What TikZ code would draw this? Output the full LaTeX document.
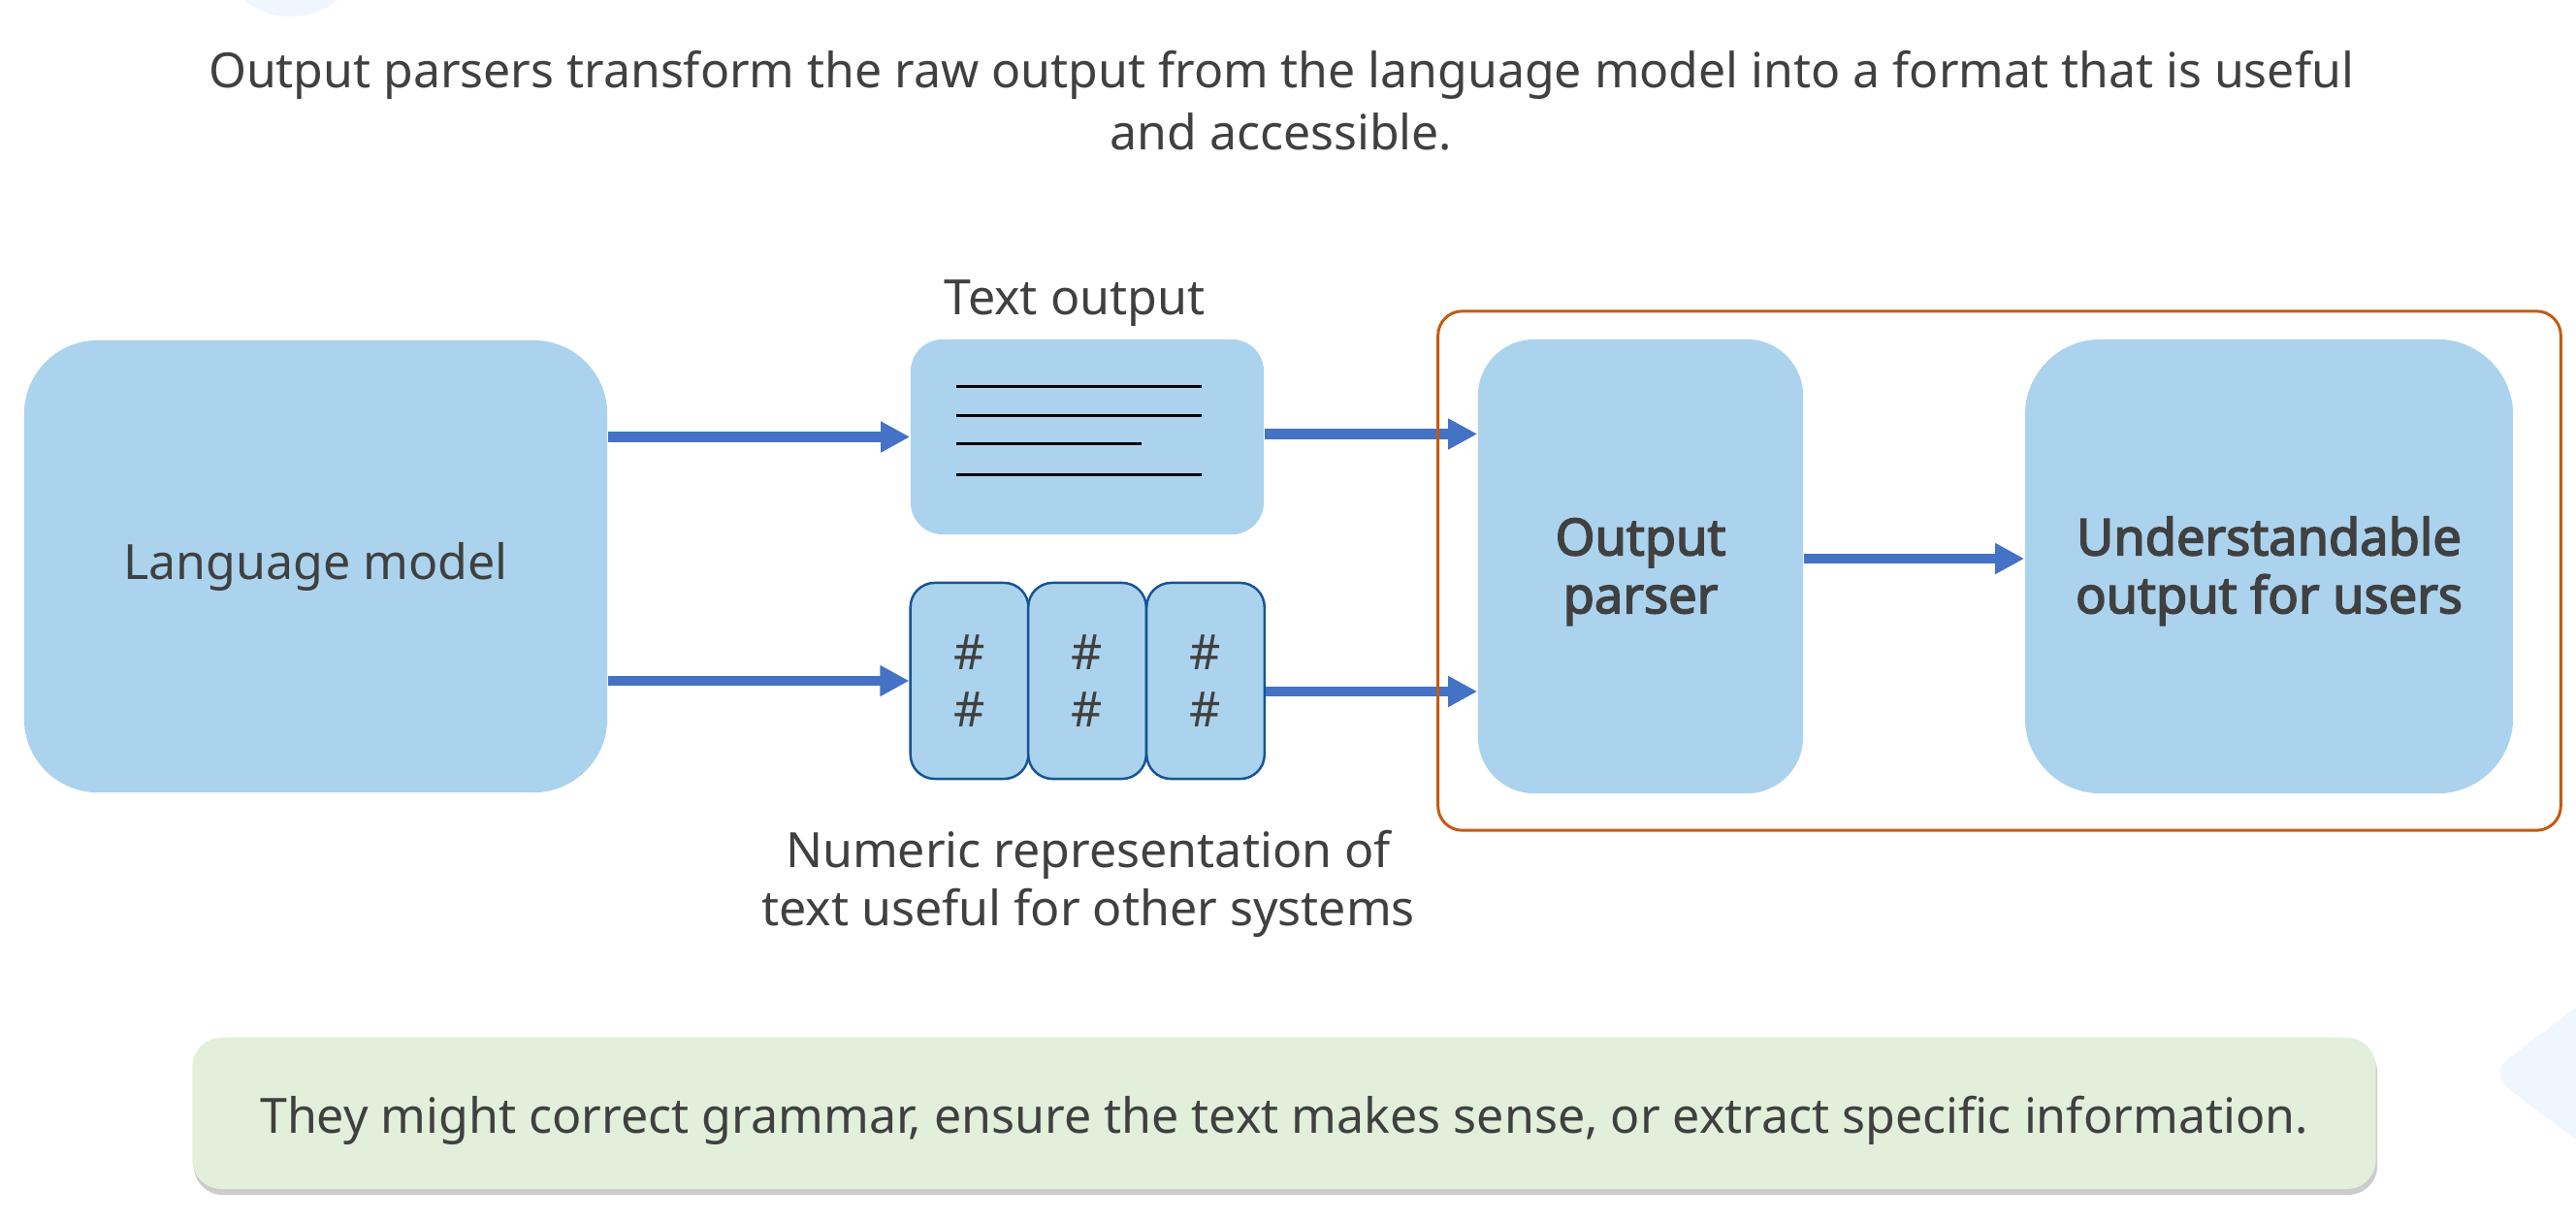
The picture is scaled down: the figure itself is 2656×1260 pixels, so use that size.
\documentclass[tikz,border=0pt]{standalone}
\usepackage{fontspec}
\setmainfont{Noto Sans}[BoldFont={Noto Sans},BoldFeatures={FakeBold=3}]
\usetikzlibrary{arrows.meta,shadows}
\definecolor{boxblue}{RGB}{171,211,238}
\definecolor{edgeblue}{RGB}{22,84,148}
\definecolor{arrowblue}{RGB}{68,114,196}
\definecolor{frameorange}{RGB}{197,90,17}
\definecolor{notegreen}{RGB}{226,239,218}
\definecolor{textgrey}{RGB}{64,64,64}
\definecolor{decoblue}{RGB}{240,246,253}

\begin{document}
\begin{tikzpicture}[x=0.01cm,y=-0.01cm,
    label text/.style={text=textgrey,align=center,font=\fontsize{14.25}{17}\selectfont},
    blue box/.style={fill=boxblue,inner sep=0pt,label text},
    flow/.style={arrowblue,line width=3pt,-{Triangle[length=0.3cm,width=0.3cm]}}]
    \clip (0,0) rectangle (2656,1260);
    \fill[decoblue] (300,-60) circle[radius=77];
    \fill[decoblue,rounded corners=0.25cm] (2566,1107)--(2740,975)--(2740,1239)--cycle;

    \node[label text,font=\fontsize{14.2}{18.2}\selectfont] (title) at (1321,104) {Output parsers transform the raw output from the language model into a format that is useful\\and accessible.};

    \node[blue box,rounded corners=0.76cm,minimum width=6.01cm,minimum height=4.66cm] (lm) at (325.5,584) {Language model};

    \node[blue box,rounded corners=0.33cm,minimum width=3.64cm,minimum height=2.01cm] (txt) at (1121,450.5) {};
    \node[label text,anchor=base] (txtlabel) at (1108,324) {Text output};
    \draw[line width=0.85pt] (986,398)--(1239,398);
    \draw[line width=0.85pt] (986,428)--(1239,428);
    \draw[line width=0.85pt] (986,457)--(1177,457);
    \draw[line width=0.85pt] (986,489)--(1239,489);

    \node[blue box,draw=edgeblue,line width=0.7pt,rounded corners=0.25cm,minimum width=1.215cm,minimum height=2.02cm] (hash1) at (999.5,702) {\#\\\#};
    \node[blue box,draw=edgeblue,line width=0.7pt,rounded corners=0.25cm,minimum width=1.215cm,minimum height=2.02cm] (hash2) at (1121,702) {\#\\\#};
    \node[blue box,draw=edgeblue,line width=0.7pt,rounded corners=0.25cm,minimum width=1.215cm,minimum height=2.02cm] (hash3) at (1243,702) {\#\\\#};
    \node[label text] (numlabel) at (1122,911) {Numeric representation of\\text useful for other systems};

    \node[blue box,font=\bfseries\fontsize{14.9}{17}\selectfont,rounded corners=0.58cm,minimum width=3.35cm,minimum height=4.68cm] (parser) at (1691.5,584) {\rule{0pt}{14pt}Output\\parser};
    \node[blue box,font=\bfseries\fontsize{14.9}{17}\selectfont,rounded corners=0.78cm,minimum width=5.03cm,minimum height=4.68cm] (users) at (2339.5,584) {\rule{0pt}{14pt}Understandable\\output for users};

    \draw[flow] (lm.east |- txt.west) -- (txt.west);
    \draw[flow] (lm.east |- hash1.west) -- (hash1.west);
    \draw[flow] ([yshift=0.03cm]txt.east) -- ([yshift=0.03cm]txt.east -| parser.west);
    \draw[flow] ([yshift=-0.11cm]hash3.east) -- ([yshift=-0.11cm]hash3.east -| parser.west);
    \draw[flow] ([yshift=0.08cm]parser.east) -- ([yshift=0.08cm]parser.east -| users.west);

    \node[draw=frameorange,line width=0.85pt,rounded corners=0.25cm,minimum width=11.57cm,minimum height=5.35cm,inner sep=0pt] (frame) at (2061.5,588.5) {};

    \node[label text,fill=notegreen,rounded corners=0.3cm,minimum width=22.5cm,minimum height=1.56cm,text height=0.45cm,text depth=0.05cm,
        drop shadow={shadow xshift=0.015cm,shadow yshift=-0.06cm,opacity=0.2,fill=black}] (note) at (1324,1148) {They might correct grammar, ensure the text makes sense, or extract specific information.};
\end{tikzpicture}
\end{document}
